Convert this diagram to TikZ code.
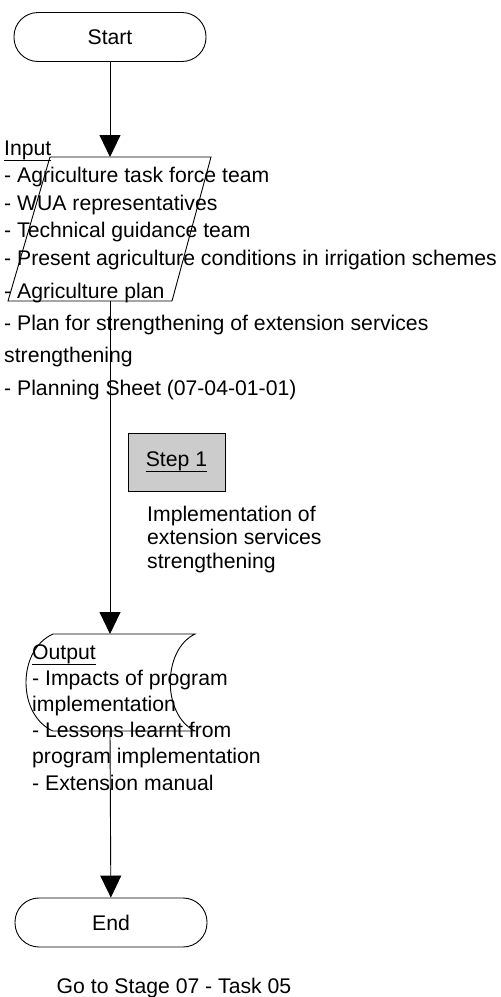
\documentclass[tikz,border=0pt]{standalone}
\usepackage{fontspec}
\setmainfont{Liberation Sans}
\usetikzlibrary{arrows.meta,positioning}
\newlength{\ulwd}
\newcommand{\ulword}[1]{\settowidth{\ulwd}{#1}\rlap{\rule[-6pt]{\ulwd}{1.5pt}}#1}
\tikzset{
  >={Triangle[length=22pt,width=21pt]},
  terminal/.style={rectangle,draw,line width=0.9pt,rounded corners=24pt,minimum width=192pt,minimum height=49pt},
  sheet/.style={draw,line width=0.9pt},
  flow/.style={->,line width=0.9pt},
  stepbox/.style={rectangle,draw,line width=0.9pt,fill=black!20,minimum width=97pt,minimum height=58pt},
  listtext/.style={anchor=base west,align=left,inner sep=0pt}
}

\begin{document}
\begin{tikzpicture}[x=1pt,y=-1pt,font=\fontsize{21.2}{27.5}\selectfont]
  \useasboundingbox (0,0) rectangle (501,997);

  % Start / End
  \node[terminal] (start) at (110,37) {Start};
  \node[terminal] (end) at (111,922.5) {End};

  % Input sheet
  \draw[sheet] (50,157) -- (211,157) -- (172,301) -- (8,301) -- cycle;
  \coordinate (in-n) at (110,157);
  \coordinate (in-s) at (110,301);

  % Output sheet
  \draw[sheet] (53,634) -- (195,634) .. controls (162,650) and (162,715) .. (195,731)
    -- (53,731) .. controls (17,715) and (17,650) .. (53,634) -- cycle;
  \coordinate (out-n) at (110,634);
  \coordinate (out-s) at (110,731);

  % Step
  \node[stepbox] (step1) at (176.5,462) {\ulword{Step 1}};

  % Flow
  \draw[flow] (start) -- (in-n);
  \draw[flow] (in-s) -- (out-n);
  \draw[flow] (out-s) -- (end);

  % Texts (base = last line)
  \node[listtext] (inlist) at (4,265) {\ulword{Input}\\- Agriculture task force team\\- WUA representatives\\- Technical guidance team\\- Present agriculture conditions in irrigation schemes};
  \node[listtext,font=\fontsize{21.2}{32.3}\selectfont] (inmore) at (4,395) {- Agriculture plan\\- Plan for strengthening of extension services\\strengthening\\- Planning Sheet (07-04-01-01)};
  \node[listtext,font=\fontsize{21.2}{23.5}\selectfont] (steptext) at (147,568) {Implementation of\\extension services\\strengthening};
  \node[listtext,font=\fontsize{21.2}{26.2}\selectfont] (outlist) at (32,790) {\ulword{Output}\\- Impacts of program\\implementation\\- Lessons learnt from\\program implementation\\- Extension manual};
  \node[anchor=base] (goto) at (174,993) {Go to Stage 07 - Task 05};
\end{tikzpicture}
\end{document}
